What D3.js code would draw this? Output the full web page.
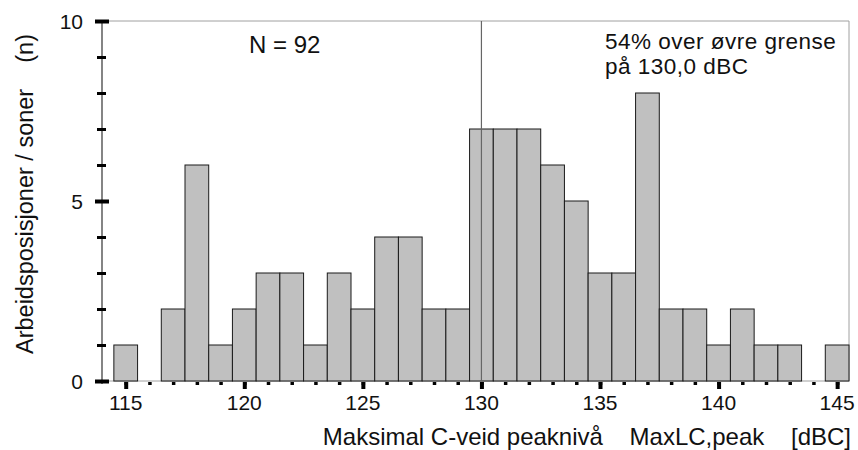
<!DOCTYPE html>
<html>
<head>
<meta charset="utf-8">
<script src="https://cdn.jsdelivr.net/npm/d3@7"></script>
<style>
  html, body { margin: 0; padding: 0; background: #fff; }
  svg { display: block; font-family: "Liberation Sans", Arial, sans-serif; }
</style>
</head>
<body>
<svg id="chart" width="858" height="450"></svg>
<script>
// dBC bin centres and counts (n) per 1 dBC bin
const levels = d3.range(115, 146)
const counts = [1, 0, 2, 6, 1, 2, 3, 3, 1, 3, 2, 4, 4, 2, 2,
                7, 7, 7, 6, 5, 3, 3, 8, 2, 2, 1, 2, 1, 1, 0, 1]
const xMajorTicks = [115, 120, 125, 130, 135, 140, 145]
const yMajorTicks = [0, 5, 10]
const limit = 130

const svg = d3.select('#chart')

const x = d3.scaleLinear().domain([114, 145.5]).range([102, 849])
const y = d3.scaleLinear().domain([0, 10]).range([381, 21])

// plot frame (grey top / right / bottom)
svg.append('path')
    .attr('d', `M${x(114)},${y(10)}H${x(145.5)}V${y(0)}H${x(114)}`)
    .attr('fill', 'none')
    .attr('stroke', '#a0a0a0')
    .attr('stroke-width', 1)

const bins = levels.map((v, i) => ({ v, n: counts[i] })).filter(d => d.n > 0)

svg.selectAll('.bar').data(bins).enter()
    .append('rect').attr('class', 'bar')
    .attr('x', d => x(d.v - 0.5))
    .attr('y', d => y(d.n))
    .attr('width', d => x(d.v + 0.5) - x(d.v - 0.5))
    .attr('height', d => y(0) - y(d.n))
    .attr('fill', '#c0c0c0')
    .attr('stroke', '#1a1a1a')
    .attr('stroke-width', 1)

// upper limit line
svg.append('line')
    .attr('x1', x(limit)).attr('x2', x(limit))
    .attr('y1', y(10)).attr('y2', y(0))
    .attr('stroke', '#666')
    .attr('stroke-width', 1.2)

// y axis line
svg.append('line')
    .attr('x1', x(114)).attr('x2', x(114))
    .attr('y1', y(10)).attr('y2', y(0) + 3)
    .attr('stroke', '#333')
    .attr('stroke-width', 1.2)

function styleTicks(g, w) {
    g.select('.domain').remove()
    g.selectAll('.tick line').attr('stroke', '#000').attr('stroke-width', w)
    g.selectAll('.tick text').remove()
}

// y ticks, straddling the axis
svg.append('g')
    .attr('transform', `translate(${x(114) + 4},0)`)
    .call(d3.axisLeft(y).tickValues(d3.range(0, 11)).tickSize(9))
    .call(g => styleTicks(g, 3))
svg.append('g')
    .attr('transform', `translate(${x(114) + 7},0)`)
    .call(d3.axisLeft(y).tickValues(yMajorTicks).tickSize(14))
    .call(g => styleTicks(g, 4))

// x ticks, below the baseline
svg.append('g')
    .attr('transform', `translate(0,${y(0) + 1})`)
    .call(d3.axisBottom(x).tickValues(levels).tickSize(3))
    .call(g => styleTicks(g, 3.5))
svg.append('g')
    .attr('transform', `translate(0,${y(0) + 1})`)
    .call(d3.axisBottom(x).tickValues(xMajorTicks).tickSize(7))
    .call(g => styleTicks(g, 4))

// tick labels
svg.append('g')
    .selectAll('text').data(yMajorTicks).enter()
    .append('text')
    .attr('x', 83)
    .attr('y', d => y(d))
    .attr('dy', '0.38em')
    .attr('text-anchor', 'end')
    .attr('font-size', 21)
    .attr('fill', '#111')
    .text(d => d)

svg.append('g')
    .selectAll('text').data(xMajorTicks).enter()
    .append('text')
    .attr('x', d => x(d))
    .attr('y', 410)
    .attr('text-anchor', 'middle')
    .attr('font-size', 21)
    .attr('fill', '#111')
    .text(d => d)

// axis titles
svg.append('text')
    .attr('transform', 'translate(33,194) rotate(-90)')
    .attr('text-anchor', 'middle')
    .attr('font-size', 23.5)
    .attr('fill', '#111')
    .style('white-space', 'pre')
    .text('Arbeidsposisjoner / soner    (n)')

svg.append('text')
    .attr('x', 851)
    .attr('y', 445)
    .attr('text-anchor', 'end')
    .attr('font-size', 24)
    .attr('fill', '#111')
    .style('white-space', 'pre')
    .text('Maksimal C-veid peaknivå    MaxLC,peak    [dBC]')

// annotations
svg.append('text')
    .attr('x', 249)
    .attr('y', 53)
    .attr('font-size', 24)
    .attr('fill', '#111')
    .text('N = 92')

const noteLines = ['54% over øvre grense', 'på 130,0 dBC']
svg.append('g')
    .selectAll('text').data(noteLines).enter()
    .append('text')
    .attr('x', 605)
    .attr('y', (d, i) => 48.5 + i * 25.5)
    .attr('font-size', 22.5)
    .attr('letter-spacing', 0.5)
    .attr('fill', '#111')
    .text(d => d)
</script>
</body>
</html>
